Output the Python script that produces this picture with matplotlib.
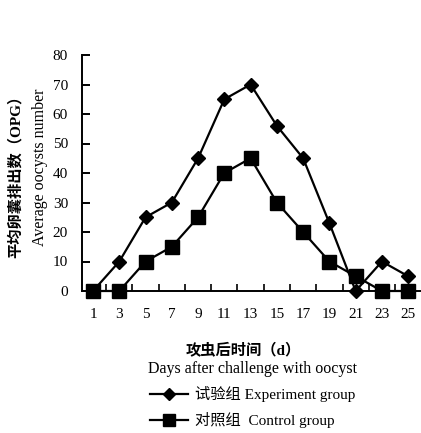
import matplotlib
matplotlib.use("Agg")
import matplotlib.pyplot as plt
from matplotlib.ticker import FixedLocator, NullFormatter

plt.rcParams["font.family"] = ["Liberation Serif", "Noto Sans CJK SC"]

days = [1, 3, 5, 7, 9, 11, 13, 15, 17, 19, 21, 23, 25]
experiment = [0, 10, 25, 30, 45, 65, 70, 56, 45, 23, 0, 10, 5]
control = [0, 0, 10, 15, 25, 40, 45, 30, 20, 10, 5, 0, 0]
y_ticks = [0, 10, 20, 30, 40, 50, 60, 70, 80]

fig = plt.figure(figsize=(4.21, 4.33), dpi=100)
# axes box in pixels: left 82, right 420, y=0 at 291, y=80 at 55
ax = fig.add_axes([82 / 421, (433 - 291) / 433, 338 / 421, 236 / 433])

l1, = ax.plot(days, experiment, color="black", lw=1.6, marker="D", ms=7.5,
              clip_on=False, zorder=3)
l2, = ax.plot(days, control, color="black", lw=1.6, marker="s", ms=10,
              clip_on=False, zorder=3)

ax.set_xlim(0.16, 25.9)
ax.set_ylim(0, 80)
ax.spines["top"].set_visible(False)
ax.spines["right"].set_visible(False)
for s in ("left", "bottom"):
    ax.spines[s].set_linewidth(1.4)

ax.set_yticks(y_ticks)
ax.tick_params(axis="y", direction="in", length=6, width=1.4, labelsize=11, pad=10)
ax.set_xticks(days)
ax.tick_params(axis="x", which="major", length=0, labelsize=11, pad=12)
ax.xaxis.set_minor_locator(FixedLocator(list(range(2, 26, 2))))
ax.xaxis.set_minor_formatter(NullFormatter())
ax.tick_params(axis="x", which="minor", direction="in", length=5, width=1.2)

fig.text(15 / 421, 1 - 173 / 433, "平均卵囊排出数（OPG）", rotation=90,
         ha="center", va="center", fontsize=11, fontweight="bold")
fig.text(40 / 421, 1 - 167 / 433, "Average oocysts number", rotation=90,
         ha="center", va="center", fontsize=11.5)

fig.text(243 / 421, 1 - 350 / 433, "攻虫后时间（d）", ha="center", va="center",
         fontsize=11, fontweight="bold")
fig.text(253 / 421, 1 - 369 / 433, "Days after challenge with oocyst",
         ha="center", va="center", fontsize=11.5)

fig.legend([l1, l2], ["试验组 Experiment group", "对照组  Control group"],
           loc="upper left", bbox_to_anchor=(150 / 421, 1 - 386 / 433),
           frameon=False, fontsize=11, handlelength=2.5, handletextpad=0.45,
           labelspacing=0.65, borderaxespad=0, borderpad=0, markerscale=0.8)

fig.savefig("out.png", dpi=100)
